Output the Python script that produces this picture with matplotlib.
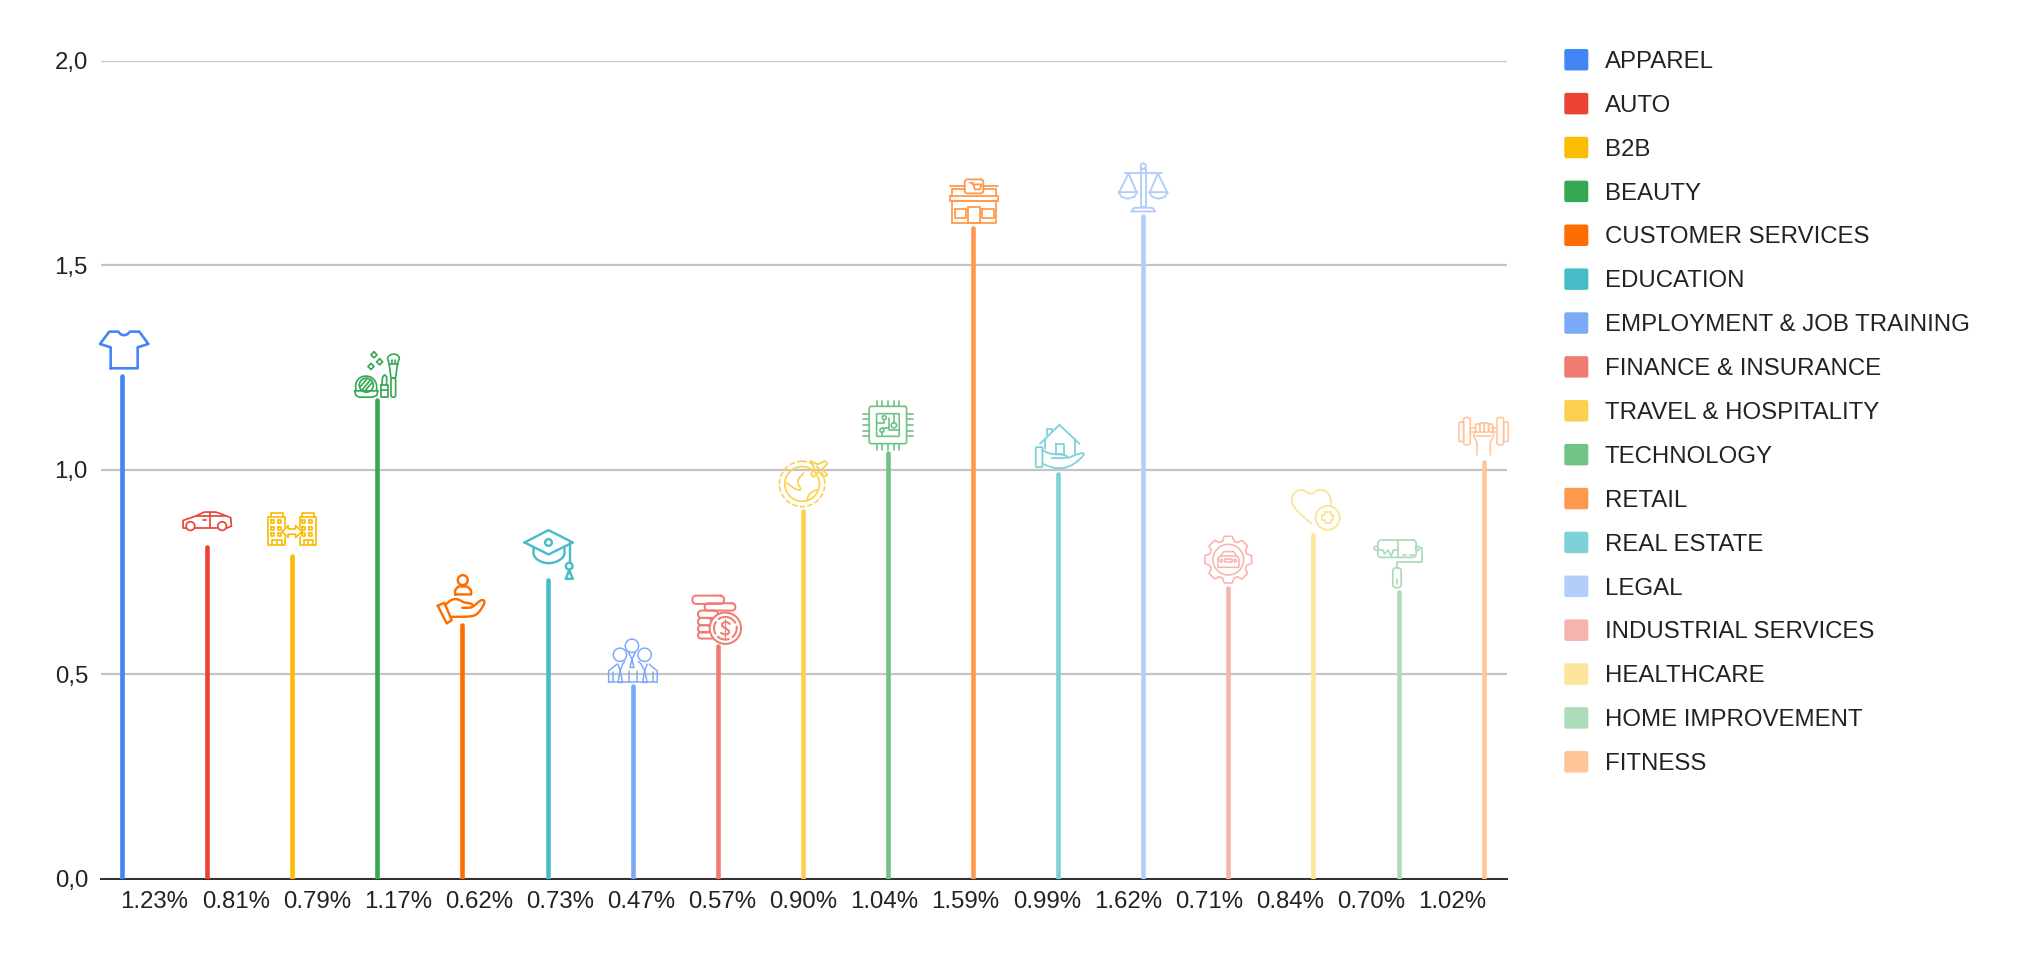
import numpy as np
import matplotlib
matplotlib.use("Agg")
import matplotlib.pyplot as plt
from matplotlib.patches import PathPatch, Patch, FancyBboxPatch
from matplotlib.path import Path
from matplotlib.transforms import Affine2D, ScaledTranslation
from matplotlib.legend_handler import HandlerPatch

plt.rcParams["font.family"] = ["Liberation Sans", "DejaVu Sans"]

categories = ["APPAREL", "AUTO", "B2B", "BEAUTY", "CUSTOMER SERVICES", "EDUCATION",
              "EMPLOYMENT & JOB TRAINING", "FINANCE & INSURANCE", "TRAVEL & HOSPITALITY",
              "TECHNOLOGY", "RETAIL", "REAL ESTATE", "LEGAL", "INDUSTRIAL SERVICES",
              "HEALTHCARE", "HOME IMPROVEMENT", "FITNESS"]
values = [1.23, 0.81, 0.79, 1.17, 0.62, 0.73, 0.47, 0.57, 0.90, 1.04, 1.59, 0.99, 1.62,
          0.71, 0.84, 0.70, 1.02]
colors = ["#4285F4", "#EA4335", "#FBBC04", "#34A853", "#FF6D01", "#46BDC6", "#7BAAF7",
          "#F07B72", "#FCD04F", "#71C287", "#FF994D", "#7ED1D7", "#B3CEFB", "#F7B4AE",
          "#FDE49B", "#AEDCBA", "#FFC599"]
y_ticks = [0.0, 0.5, 1.0, 1.5, 2.0]
y_tick_labels = ["0,0", "0,5", "1,0", "1,5", "2,0"]
x_tick_labels = ["1.23%", "0.81%", "0.79%", "1.17%", "0.62%", "0.73%", "0.47%", "0.57%",
                 "0.90%", "1.04%", "1.59%", "0.99%", "1.62%", "0.71%", "0.84%", "0.70%",
                 "1.02%"]

W, H = 2018, 964
PX = 0.72  # points per pixel at dpi 100
TEXT = "#222222"
fig = plt.figure(figsize=(W / 100, H / 100), dpi=100, facecolor="white")
L, R_, T, B = 101, 1507, 60.7, 878.7
ax = fig.add_axes([L / W, (H - B) / H, (R_ - L) / W, (B - T) / H])

STEM0, STEP = 122.0, 85.1
xs = np.arange(len(values))
ax.set_xlim((L - STEM0) / STEP, (R_ - STEM0) / STEP)
ax.set_ylim(0, 2)
ax.vlines(xs, 0, values, colors=colors, linewidth=4.6 * PX, capstyle="round", zorder=3)

ax.set_yticks(y_ticks, y_tick_labels)
ax.set_xticks([(154.6 + 81.1 * i - STEM0) / STEP for i in range(len(values))], x_tick_labels)
ax.tick_params(axis="both", length=0, labelsize=24 * PX, labelcolor=TEXT)
ax.tick_params(axis="x", pad=12 * PX)
ax.tick_params(axis="y", pad=13 * PX)
ax.grid(axis="y", color="#C4C4C4", linewidth=2.2 * PX, zorder=1)
ax.set_axisbelow(True)
for s in ("top", "left", "right"):
    ax.spines[s].set_visible(False)
ax.spines["bottom"].set_color("#333333")
ax.spines["bottom"].set_linewidth(2 * PX)


class RoundHandler(HandlerPatch):
    def create_artists(self, legend, orig_handle, xdescent, ydescent, width, height, fontsize, trans):
        r = 2 * PX
        p = FancyBboxPatch((-xdescent + r, -ydescent + r), width - 2 * r, height - 2 * r,
                           boxstyle=f"round,pad={r},rounding_size={r}",
                           fc=orig_handle.get_facecolor(), ec="none", transform=trans)
        return [p]


handles = [Patch(facecolor=c, label=n) for c, n in zip(colors, categories)]
fs = 24 * PX
leg = fig.legend(handles=handles, loc="upper left", bbox_to_anchor=(1564.3 / W, 1 - 49 / H),
                 frameon=False, fontsize=fs, borderpad=0, borderaxespad=0,
                 handlelength=24 * PX / fs, handleheight=24 * PX / fs,
                 handletextpad=16.3 * PX / fs, labelspacing=0.83, labelcolor=TEXT,
                 handler_map={Patch: RoundHandler()})


# ---- pictograms: outline decoration, written in 3x-zoom units relative to the stem top ----
def chaikin(pts, n=2):
    p = np.asarray(pts, float)
    for _ in range(n):
        q = [p[0]]
        for a, b in zip(p[:-1], p[1:]):
            q += [0.75 * a + 0.25 * b, 0.25 * a + 0.75 * b]
        q.append(p[-1])
        p = np.array(q)
    return p


def poly(pts, closed=False, smooth=False, **kw):
    p = chaikin(pts) if smooth else np.asarray(pts, float)
    if closed:
        p = np.vstack([p, p[0]])
    return Path(p), kw


def circ(x, y, r, **kw):
    return Path.circle((x, y), r), kw


def rect(x, y, w, h, r=0, **kw):
    if r == 0:
        return poly([(x, y), (x + w, y), (x + w, y + h), (x, y + h)], closed=True, **kw)
    t = np.linspace(0, np.pi / 2, 6)
    pts = []
    for cx, cy, a in [(x + w - r, y + r, -np.pi / 2), (x + w - r, y + h - r, 0),
                      (x + r, y + h - r, np.pi / 2), (x + r, y + r, np.pi)]:
        pts += [(cx + r * np.cos(a + u), cy + r * np.sin(a + u)) for u in t]
    return poly(pts, closed=True, **kw)


def draw_icon(i, origin, shapes, lw):
    base = (Affine2D().translate(-origin[0], -origin[1]).scale(1 / 3, -1 / 3)
            + ScaledTranslation(xs[i], values[i], ax.transData))
    for path, kw in shapes:
        ax.add_artist(PathPatch(path, transform=base, fc=kw.get("fc", "none"), ec=colors[i],
                                lw=kw.get("lw", lw) * PX, ls=kw.get("ls", "-"),
                                capstyle="round", joinstyle="round", clip_on=False, zorder=4))


draw_icon(0, (96, 170), [
    poly([(62, 148), (62, 85), (30, 75), (58, 38), (85, 38), (92, 46), (102, 49), (112, 46),
          (120, 38), (148, 38), (175, 75), (143, 85), (143, 148)], closed=True)], 2.6)

draw_icon(1, (354, 686), [
    poly([(291, 628), (282, 628), (282, 605), (320, 592), (345, 580), (380, 580), (395, 585),
          (425, 597), (427, 622), (413, 628)]),
    circ(304, 622, 13), circ(399, 622, 13),
    poly([(318, 628), (385, 628)]), poly([(320, 592), (408, 592)]),
    poly([(362, 580), (362, 628)]), poly([(342, 604), (352, 604)])], 1.7)

w = [(x, y) for x in (548, 568) for y in (605, 625, 645)] + [(x, y) for x in (642, 662) for y in (605, 625, 645)]
draw_icon(2, (612, 712), [
    poly([(590, 625), (590, 595), (540, 595), (540, 680), (590, 680), (590, 655)]),
    poly([(634, 625), (634, 595), (684, 595), (684, 680), (634, 680), (634, 655)]),
    poly([(548, 595), (548, 585), (585, 585), (585, 595)]),
    poly([(640, 595), (640, 585), (678, 585), (678, 595)]),
    poly([(582, 640), (600, 622), (600, 632), (622, 632), (622, 622), (642, 640), (622, 658),
          (622, 648), (600, 648), (600, 658)], closed=True),
    poly([(552, 680), (552, 665), (580, 665), (580, 680)]), poly([(566, 665), (566, 680)]),
    poly([(646, 680), (646, 665), (674, 665), (674, 680)]), poly([(660, 665), (660, 680)])]
    + [rect(x, y, 9, 9) for x, y in w], 1.7)

draw_icon(3, (864, 242), [
    poly([(800, 213), (798, 190), (815, 170), (845, 170), (862, 190), (862, 213)], smooth=True),
    circ(831, 197, 21),
    poly([(818, 212), (842, 183)]), poly([(826, 215), (848, 190)]), poly([(814, 200), (832, 180)]),
    poly([(796, 214), (866, 214), (862, 228), (850, 233), (810, 233), (800, 228)], closed=True),
    rect(874, 195, 22, 38),
    poly([(878, 195), (880, 172), (886, 166), (892, 172), (892, 195)]), poly([(874, 210), (896, 210)]),
    rect(905, 175, 14, 58, 6),
    poly([(905, 175), (899, 128), (893, 115), (905, 104), (922, 104), (932, 115), (925, 128), (919, 175)], smooth=True),
    poly([(899, 132), (925, 132)]), poly([(908, 120), (908, 130)]), poly([(917, 120), (917, 130)]),
    poly([(854, 97), (863, 106), (854, 115), (845, 106)], closed=True),
    poly([(871, 118), (880, 127), (871, 136), (862, 127)], closed=True),
    poly([(845, 132), (854, 141), (845, 150), (836, 141)], closed=True)], 1.7)

draw_icon(4, (132, 350), [
    circ(133, 215, 15),
    poly([(110, 258), (110, 245), (120, 234), (146, 234), (158, 245), (158, 258)], closed=True),
    poly([(58, 292), (78, 283), (100, 335), (85, 345)], closed=True),
    poly([(80, 290), (100, 272), (120, 272), (135, 282), (158, 285), (166, 292), (158, 298), (132, 298)], smooth=True),
    poly([(166, 293), (190, 272), (202, 280), (180, 315), (160, 325), (98, 325)], smooth=True)], 2.4)

draw_icon(5, (384, 212), [
    poly([(315, 99), (387, 62), (460, 99), (387, 135)], closed=True),
    poly([(342, 115), (342, 142), (365, 158), (387, 162), (410, 158), (435, 142), (435, 115)], smooth=True),
    circ(387, 99, 10), poly([(450, 100), (450, 160)]), circ(449, 170, 10),
    poly([(449, 182), (439, 208), (460, 208)], closed=True)], 2.4)

draw_icon(6, (642, 537), [
    circ(640, 415, 20), circ(604, 442, 20), circ(678, 442, 20),
    poly([(570, 525), (716, 525)]),
    poly([(570, 525), (570, 490), (588, 476), (595, 470)]),
    poly([(716, 525), (716, 490), (698, 476), (692, 470)]),
    poly([(618, 462), (612, 470), (605, 490), (598, 470)]),
    poly([(660, 462), (668, 470), (678, 490), (686, 470)]),
    poly([(630, 435), (640, 455), (650, 435)]),
    poly([(640, 455), (634, 480), (646, 480)], closed=True),
    poly([(605, 490), (598, 525), (612, 525)], closed=True),
    poly([(678, 490), (672, 525), (686, 525)], closed=True),
    poly([(582, 495), (582, 525)]), poly([(630, 490), (630, 525)]),
    poly([(655, 490), (655, 525)]), poly([(704, 495), (704, 525)])], 1.5)

draw_icon(7, (894, 410), [
    rect(818, 260, 95, 25, 11), rect(855, 283, 92, 22, 10),
    rect(835, 305, 60, 22, 10), rect(835, 327, 40, 22, 10),
    rect(835, 349, 38, 22, 10), rect(835, 369, 50, 20, 9),
    circ(917, 358, 47, fc="white"), circ(917, 358, 34, ls=(0, (6, 2))),
    poly([(930, 345), (920, 338), (908, 342), (906, 352), (928, 364), (928, 374), (916, 378), (904, 372)], smooth=True),
    poly([(917, 330), (917, 386)], lw=1.2)], 2.0)

draw_icon(8, (132, 363), [
    circ(130, 283, 68, ls=(0, (2.5, 2))), circ(130, 283, 52),
    poly([(155, 215), (178, 224), (198, 214), (206, 222), (190, 238), (206, 256), (194, 262),
          (178, 246), (165, 262), (156, 255), (166, 236)], closed=True),
    poly([(85, 280), (110, 300), (130, 302), (112, 275), (135, 250)], smooth=True),
    poly([(145, 332), (150, 312), (175, 300)], smooth=True)], 1.7)

draw_icon(9, (384, 195), [rect(328, 54, 112, 112, 6), rect(350, 76, 68, 68, 3),
    circ(373, 88, 6), circ(402, 111, 8), circ(366, 126, 6),
    poly([(373, 94), (373, 105), (350, 105)]), poly([(366, 132), (366, 144)]),
    poly([(402, 76), (402, 103)]), poly([(388, 88), (388, 125), (418, 125)]),
    poly([(366, 120), (388, 120)])]
    + [poly([(x, 38), (x, 54)]) for x in (350, 367, 384, 401, 416)]
    + [poly([(x, 166), (x, 185)]) for x in (350, 367, 384, 401, 416)]
    + [poly([(310, y), (328, y)]) for y in (76, 93, 110, 127, 144)]
    + [poly([(440, y), (458, y)]) for y in (76, 93, 110, 127, 144)], 1.7)

draw_icon(10, (222, 207), [
    rect(197, 60, 56, 42, 8),
    poly([(212, 70), (221, 70), (228, 90), (243, 90), (247, 75), (222, 75)]),
    poly([(152, 80), (197, 80)]), poly([(253, 80), (298, 80)]),
    poly([(160, 90), (197, 90)]), poly([(253, 90), (290, 90)]),
    poly([(160, 90), (160, 110)]), poly([(290, 90), (290, 110)]),
    rect(152, 110, 146, 14), rect(158, 124, 132, 66),
    rect(167, 148, 34, 28), rect(250, 148, 34, 28), rect(208, 143, 34, 47)], 1.8)

draw_icon(11, (894, 255), [
    poly([(840, 165), (898, 108), (958, 165)]), poly([(860, 140), (860, 120), (875, 120), (875, 128)]),
    poly([(855, 155), (855, 182)]), poly([(945, 150), (945, 195)]), rect(887, 165, 26, 32),
    rect(827, 175, 20, 60, 3),
    poly([(847, 185), (872, 196), (918, 198), (922, 208), (875, 208)], smooth=True),
    poly([(922, 208), (968, 190), (973, 200), (930, 235), (885, 240), (847, 225)], smooth=True)], 1.8)

draw_icon(12, (732, 170), [
    circ(732, 20, 8), rect(725, 30, 14, 112),
    poly([(678, 42), (787, 42)]),
    poly([(660, 98), (688, 42), (712, 98)]), poly([(752, 98), (776, 42), (804, 98)]),
    poly([(658, 98), (714, 98), (705, 112), (686, 118), (667, 112)], closed=True),
    poly([(750, 98), (806, 98), (797, 112), (778, 118), (759, 112)], closed=True),
    poly([(697, 156), (705, 145), (760, 145), (768, 156)], closed=True)], 1.9)

cx, cy = 114, 482
gear = []
for k in range(8):
    a = k * np.pi / 4 - np.pi / 2
    for da, rad in [(-0.30, 58), (-0.17, 71), (0.17, 71), (0.30, 58)]:
        gear.append((cx + rad * np.cos(a + da), cy + rad * np.sin(a + da)))
draw_icon(13, (114, 568), [
    poly(gear, closed=True), circ(cx, cy, 46),
    poly([(83, 478), (92, 470), (100, 458), (130, 458), (138, 470), (146, 478), (146, 505), (83, 505)], closed=True),
    poly([(92, 470), (138, 470)]), rect(105, 480, 20, 9), circ(93, 485, 4), circ(135, 485, 4)], 1.6)

draw_icon(14, (372, 410), [
    poly([(365, 375), (315, 330), (305, 305), (315, 280), (340, 272), (365, 290), (385, 273),
          (410, 275), (425, 300), (425, 325)], smooth=True),
    circ(415, 358, 36, fc="white"),
    poly([(407, 342), (424, 342), (424, 350), (432, 350), (432, 366), (424, 366), (424, 375),
          (407, 375), (407, 366), (398, 366), (398, 350), (407, 350)], closed=True)], 1.9)

draw_icon(15, (627, 577), [
    rect(565, 420, 115, 52, 10), poly([(625, 420), (625, 472)]),
    poly([(565, 450), (580, 450), (585, 462), (595, 450), (605, 468), (612, 450), (625, 450)]),
    poly([(640, 466), (650, 466)]), poly([(662, 466), (672, 466)]),
    circ(560, 445, 6), circ(684, 445, 6),
    poly([(688, 445), (697, 445), (697, 485), (622, 485), (622, 505)]),
    rect(610, 503, 25, 60, 10), poly([(622, 538), (622, 552)])], 1.8)

draw_icon(16, (882, 188), [
    rect(808, 70, 14, 58, 4), rect(822, 56, 20, 82, 6), rect(922, 56, 20, 82, 6), rect(942, 70, 14, 58, 4),
    poly([(842, 88), (858, 88)]), poly([(908, 88), (922, 88)]),
    poly([(842, 100), (858, 100)]), poly([(908, 100), (922, 100)]),
    rect(858, 75, 13, 25, 5), rect(871, 72, 13, 28, 5), rect(884, 72, 13, 28, 5), rect(897, 75, 12, 25, 5),
    poly([(856, 100), (852, 112), (862, 130), (862, 168)]),
    poly([(910, 92), (912, 112), (902, 130), (902, 168)]),
    poly([(858, 112), (905, 112)])], 1.6)

fig.savefig("out.png", dpi=100, facecolor="white")
